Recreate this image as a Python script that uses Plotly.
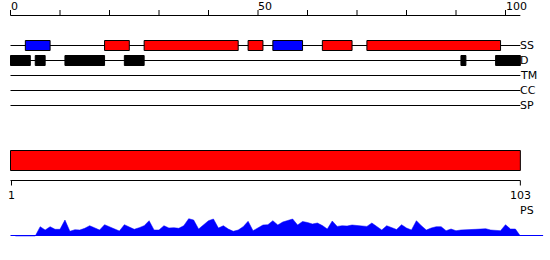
import plotly.graph_objects as go

# ---------------- data ----------------
seq_len = 103
ruler_ticks = list(range(0, 101, 10))
ruler_label_pos = [0, 50, 100]
ruler_labels = ["0", "50", "100"]
track_names = ["SS", "D", "TM", "CC", "SP"]
ss_helix = [(19, 24), (27, 46), (48, 51), (63, 69), (72, 99)]   # red
ss_strand = [(3, 8), (53, 59)]                                   # blue
disorder = [(0, 4), (5, 7), (11, 19), (23, 27), (91, 92), (98, 103)]
domains = [(0, 103)]
seq_ends = [1, 103]
ps_residues = list(range(1, 104))
ps_values = [0, 0, 0, 0, 0,
             9.3, 6, 9.3, 6.7, 6.7, 16, 4.7, 6.3, 6, 7.7,
             10.3, 8, 6, 11.3, 9.3, 6.7, 5, 11.3, 8.7, 6.7,
             8.3, 10.3, 15.3, 6, 6, 10.3, 8, 8.3, 7.7, 10.3,
             17.3, 16, 7, 11.3, 15.3, 17, 8, 10.3, 7, 4.7,
             6, 9.3, 14.7, 5.3, 8, 11, 11.3, 15.3, 11, 14,
             15.5, 17, 11, 14.5, 13.5, 12, 13, 10.5, 7, 15,
             9.6, 10.3, 10, 11, 10.5, 10, 9.6, 13, 9.5, 6,
             10.3, 8, 6.5, 11.3, 8, 6, 15.3, 10.3, 6, 8,
             9.3, 9.3, 5.3, 7, 5.3, 6, 6, 6.7, 6.7, 7,
             7.3, 6, 5.3, 5.3, 11.3, 7, 7, 0]

# ---------------- layout constants (pixel space) ----------------
W, H = 550, 260
PX0, PXU = 10.5, 4.95          # pixel of unit 0, pixels per unit
ruler_y = 15.5
row_y = [45.5, 60.5, 75.5, 90.5, 105.5]
box_half = 5
dom_y0, dom_y1 = 150.5, 170.5
axis2_y = 180.5
ps_base = 236                   # pixel of value 0 in profile
RED, BLUE, BLACK = "#ff0000", "#0000ff", "#000000"
FONT = dict(family="DejaVu Sans", size=11, color=BLACK)

xr = [-PX0 / PXU, (W - PX0) / PXU]

shapes = []
annots = []


def line(x0, x1, y0, y1, color=BLACK):
    shapes.append(dict(type="line", xref="x", yref="y", x0=x0, x1=x1, y0=y0, y1=y1,
                       line=dict(color=color, width=1)))


def rect(x0, x1, y0, y1, fill):
    shapes.append(dict(type="rect", xref="x", yref="y", x0=x0, x1=x1, y0=y0, y1=y1,
                       fillcolor=fill, line=dict(color=BLACK, width=1)))


def text(x, y, s, xanchor):
    annots.append(dict(x=x, y=y, xref="x", yref="y", text=s, showarrow=False,
                       xanchor=xanchor, yanchor="middle", font=FONT,
                       borderpad=0, borderwidth=0))


# top ruler
line(0, seq_len, ruler_y, ruler_y)
for t in ruler_ticks:
    line(t, t, 10, ruler_y)
for p, lab in zip(ruler_label_pos, ruler_labels):
    text(p, 6, lab, "left")

# tracks
for yy, name in zip(row_y, track_names):
    line(0, seq_len, yy, yy)
    text(seq_len, yy - 0.5, name, "left")

for a, b in ss_helix:
    rect(a, b, row_y[0] - box_half, row_y[0] + box_half, RED)
for a, b in ss_strand:
    rect(a, b, row_y[0] - box_half, row_y[0] + box_half, BLUE)
for a, b in disorder:
    rect(a, b, row_y[1] - box_half, row_y[1] + box_half, BLACK)

# domain bar
for a, b in domains:
    rect(a, b, dom_y0, dom_y1, RED)

# bottom axis
line(0, seq_len, axis2_y, axis2_y)
line(0.2, 0.2, axis2_y, axis2_y + 5)
line(seq_len, seq_len, axis2_y, axis2_y + 5)
text(0.2, 195.5, str(seq_ends[0]), "center")
text(seq_len, 195.5, str(seq_ends[1]), "center")
text(seq_len, 210.8, "PS", "left")

# profile baseline
line(0, 107.6, ps_base - 0.5, ps_base - 0.5, BLUE)

fig = go.Figure()
fig.add_trace(go.Scatter(x=[None], y=[None], xaxis="x", yaxis="y",
                         showlegend=False, hoverinfo="skip"))
fig.add_trace(go.Scatter(x=ps_residues, y=ps_values, xaxis="x", yaxis="y2",
                         mode="lines", line=dict(color=BLUE, width=0.5),
                         fill="tozeroy", fillcolor=BLUE,
                         showlegend=False, hoverinfo="skip"))

fig.update_layout(
    width=W, height=H,
    margin=dict(l=0, r=0, t=0, b=0),
    paper_bgcolor="white", plot_bgcolor="white",
    xaxis=dict(range=xr, visible=False, fixedrange=True),
    yaxis=dict(range=[H, 0], visible=False, fixedrange=True),
    yaxis2=dict(range=[ps_base - H, ps_base], overlaying="y", visible=False,
                fixedrange=True),
    shapes=shapes,
    annotations=annots,
    showlegend=False,
)

fig.write_html("out.html")
